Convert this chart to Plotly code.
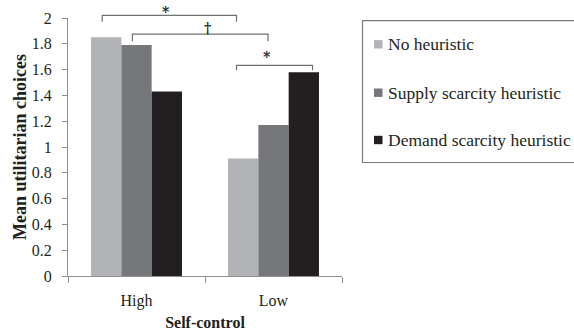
import plotly.graph_objects as go

# Data
categories = ["High", "Low"]
series_names = ["No heuristic", "Supply scarcity heuristic", "Demand scarcity heuristic"]
no_heuristic = [1.85, 0.91]
supply_scarcity = [1.79, 1.17]
demand_scarcity = [1.43, 1.58]
y_ticks = [0, 0.2, 0.4, 0.6, 0.8, 1, 1.2, 1.4, 1.6, 1.8, 2]

# Significance brackets: (x start, x end, bar top, tip bottom, label, label x, label y)
brackets = [
    (-0.25, 0.73, 2.02, 1.97, "*", 0.215, 2.045),
    (-0.03, 0.96, 1.875, 1.82, "†", 0.52, 1.925),
    (0.73, 1.285, 1.632, 1.595, "*", 0.95, 1.70),
]

colors = ["#b2b3b7", "#76777b", "#231f20"]
FONT = "Liberation Serif"
TXT = "#231f20"
AX = "#8e8e8e"

W, H = 574, 333
L, R, T, B = 68, 232, 18, 57


def px_x(px):
    return (px - L) / (W - L - R)


def px_y(py):
    return (H - B - py) / (H - T - B)


def dx(x):  # category-axis value -> paper
    return (x + 0.5) / 2.0


def dy(y):  # y value -> paper (range 0..2)
    return y / 2.0


fig = go.Figure()
for name, vals, c in zip(series_names, [no_heuristic, supply_scarcity, demand_scarcity], colors):
    fig.add_trace(go.Bar(x=categories, y=vals, name=name, marker=dict(color=c, line=dict(width=0)),
                         showlegend=False))

shapes = []
annotations = []
for x0, x1, ytop, ybot, lab, lx, ly in brackets:
    path = (f"M {dx(x0)},{dy(ybot)} L {dx(x0)},{dy(ytop)} "
            f"L {dx(x1)},{dy(ytop)} L {dx(x1)},{dy(ybot)}")
    shapes.append(dict(type="path", xref="paper", yref="paper", path=path,
                       line=dict(color="#6f6f6f", width=1.2)))
    annotations.append(dict(text=f"<b>{lab}</b>", xref="paper", yref="paper", x=dx(lx), y=dy(ly),
                            showarrow=False, xanchor="center", yanchor="middle",
                            font=dict(family="DejaVu Serif", size=14, color=TXT)))

# Legend box
shapes.append(dict(type="rect", xref="paper", yref="paper",
                   x0=px_x(362.5), x1=px_x(580), y0=px_y(162.5), y1=px_y(20.7),
                   line=dict(color="#7a7a7a", width=1.2), fillcolor="rgba(0,0,0,0)"))
item_y = [44.3, 92.7, 140]
for name, c, iy in zip(series_names, colors, item_y):
    shapes.append(dict(type="rect", xref="paper", yref="paper",
                       x0=px_x(374), x1=px_x(382.5), y0=px_y(iy + 4.2), y1=px_y(iy - 4.2),
                       line=dict(width=0), fillcolor=c))
    annotations.append(dict(text=name, xref="paper", yref="paper", x=px_x(385.5), y=px_y(iy),
                            showarrow=False, xanchor="left", yanchor="middle",
                            font=dict(family=FONT, size=17.5, color=TXT)))

fig.update_layout(
    width=W, height=H,
    margin=dict(l=L, r=R, t=T, b=B, autoexpand=False),
    paper_bgcolor="white", plot_bgcolor="white",
    barmode="group", bargap=0.336, bargroupgap=0,
    font=dict(family=FONT, color=TXT),
    shapes=shapes, annotations=annotations,
    xaxis=dict(
        type="category", range=[-0.5, 1.5], showline=True, linecolor=AX, linewidth=1,
        ticks="outside", tickson="boundaries", ticklen=6, tickcolor=AX,
        tickfont=dict(family=FONT, size=16, color=TXT), ticklabelstandoff=10,
        showgrid=False, zeroline=False, automargin=False,
        title=dict(text="<b>Self-control</b>", font=dict(family=FONT, size=16, color=TXT), standoff=7),
    ),
    yaxis=dict(
        range=[0, 2], tickvals=y_ticks, ticktext=[f"{v:g}" for v in y_ticks],
        showline=True, linecolor=AX, linewidth=1, ticks="outside", ticklen=5, tickcolor=AX,
        tickfont=dict(family=FONT, size=16, color=TXT), ticklabelstandoff=7,
        showgrid=False, zeroline=False, automargin=False,
        title=dict(text="<b>Mean utilitarian choices</b>", font=dict(family=FONT, size=18, color=TXT),
                   standoff=0),
    ),
)

fig.write_html("out.html")
